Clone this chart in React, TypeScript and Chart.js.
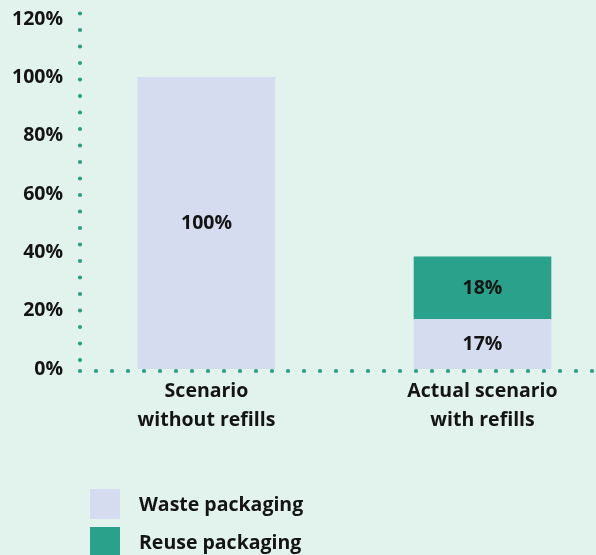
import React, { useEffect, useRef } from 'react';
import { Chart, registerables } from 'chart.js';

Chart.register(...registerables);

// ---- data ----
const categories: string[][] = [
  ['Scenario', 'without refills'],
  ['Actual scenario', 'with refills'],
];
const seriesNames = ['Waste packaging', 'Reuse packaging'];
const wasteValues = [100, 17];
const reuseValues = [0, 21.5];
const wasteLabels = ['100%', '17%'];
const reuseLabels = ['', '18%'];
const yTicks = [0, 20, 40, 60, 80, 100, 120];

// ---- styles ----
const BG = '#e1f3ec';
const WASTE = '#d6dcef';
const REUSE = '#2aa18a';
const DOT = '#2a9f87';
const TEXT = '#141414';
const FONT = '"Open Sans", Lato, sans-serif';
const WEIGHT = 'bold';
const SIZE = 19.5;

export default function App() {
  const ref = useRef<HTMLCanvasElement | null>(null);

  useEffect(() => {
    document.body.style.margin = '0';
    document.body.style.background = BG;
    const canvas = ref.current;
    if (!canvas) return;

    const bgPlugin = {
      id: 'bg',
      beforeDraw(chart: any) {
        const { ctx, width, height } = chart;
        ctx.save();
        ctx.fillStyle = BG;
        ctx.fillRect(0, 0, width, height);
        ctx.restore();
      },
    };

    const axesPlugin = {
      id: 'dotAxes',
      afterDatasetsDraw(chart: any) {
        const { ctx, chartArea, width } = chart;
        const { left, top, bottom } = chartArea;
        ctx.save();
        ctx.fillStyle = DOT;
        const dot = (x: number, y: number) => {
          ctx.beginPath();
          ctx.arc(x, y, 2.1, 0, Math.PI * 2);
          ctx.fill();
        };
        const cy = bottom + 2;
        for (let x = left; x <= width + 3; x += 16) dot(x, cy);
        for (let y = cy - 11; y >= top - 7; y -= 16.5) dot(left, y);
        ctx.restore();
      },
    };

    const labelPlugin = {
      id: 'barLabels',
      afterDatasetsDraw(chart: any) {
        const { ctx } = chart;
        const labelSets = [wasteLabels, reuseLabels];
        ctx.save();
        ctx.fillStyle = TEXT;
        ctx.font = `${WEIGHT} ${SIZE}px ${FONT}`;
        ctx.textAlign = 'center';
        ctx.textBaseline = 'middle';
        chart.data.datasets.forEach((_: any, di: number) => {
          const meta = chart.getDatasetMeta(di);
          meta.data.forEach((el: any, i: number) => {
            const t = labelSets[di][i];
            if (!t) return;
            const { x, y, base } = el.getProps(['x', 'y', 'base'], true);
            ctx.fillText(t, x, (y + base) / 2);
          });
        });
        ctx.restore();
      },
    };

    const legendPlugin = {
      id: 'stackLegend',
      afterDraw(chart: any) {
        const { ctx } = chart;
        ctx.save();
        ctx.font = `${WEIGHT} ${SIZE}px ${FONT}`;
        ctx.textBaseline = 'middle';
        ctx.textAlign = 'left';
        chart.data.datasets.forEach((ds: any, i: number) => {
          const y = 489 + i * 38;
          ctx.fillStyle = ds.backgroundColor;
          ctx.fillRect(90, y, 30, 30);
          ctx.fillStyle = TEXT;
          ctx.fillText(ds.label, 139, y + 16);
        });
        ctx.restore();
      },
    };

    const chart = new Chart(canvas, {
      type: 'bar',
      data: {
        datasets: [
          {
            label: seriesNames[0],
            data: wasteValues.map((v, i) => ({ x: i, y: v })),
            backgroundColor: WASTE,
            barThickness: 137,
          },
          {
            label: seriesNames[1],
            data: reuseValues.map((v, i) => ({ x: i, y: v })),
            backgroundColor: REUSE,
            barThickness: 137,
          },
        ],
      },
      options: {
        animation: false,
        responsive: false,
        layout: { padding: { top: 19, left: 0, right: 0, bottom: 0 } },
        plugins: {
          legend: { display: false },
          tooltip: { enabled: false },
        },
        scales: {
          x: {
            type: 'linear',
            stacked: true,
            offset: false,
            bounds: 'data',
            min: -0.4583,
            max: 1.4112,
            grid: { display: false, drawTicks: false, offset: false },
            border: { display: false },
            afterBuildTicks: (s: any) => {
              s.ticks = categories.map((_, i) => ({ value: i }));
            },
            afterFit: (s: any) => {
              s.height = 186;
              s.paddingLeft = 0;
              s.paddingRight = 0;
            },
            ticks: {
              autoSkip: false,
              maxRotation: 0,
              padding: 8,
              color: TEXT,
              font: { family: FONT, size: SIZE, weight: WEIGHT, lineHeight: '29px' },
              callback: (v: any) => categories[Math.round(v)] ?? '',
            },
          },
          y: {
            stacked: true,
            min: 0,
            max: 120,
            grid: { display: false, drawTicks: false },
            border: { display: false },
            afterBuildTicks: (s: any) => {
              s.ticks = yTicks.map((v) => ({ value: v }));
            },
            afterFit: (s: any) => {
              s.width = 80;
              s.paddingTop = 0;
              s.paddingBottom = 0;
            },
            ticks: {
              padding: 17,
              color: TEXT,
              font: { family: FONT, size: SIZE, weight: WEIGHT },
              callback: (v: any) => `${v}%`,
            },
          },
        },
      } as any,
      plugins: [bgPlugin, axesPlugin, labelPlugin, legendPlugin],
    });

    return () => chart.destroy();
  }, []);

  return (
    <div style={{ position: 'fixed', left: 0, top: 0, width: 596, height: 555, background: BG, overflow: 'hidden' }}>
      <canvas ref={ref} width={596} height={555} style={{ display: 'block', width: 596, height: 555 }} />
    </div>
  );
}
